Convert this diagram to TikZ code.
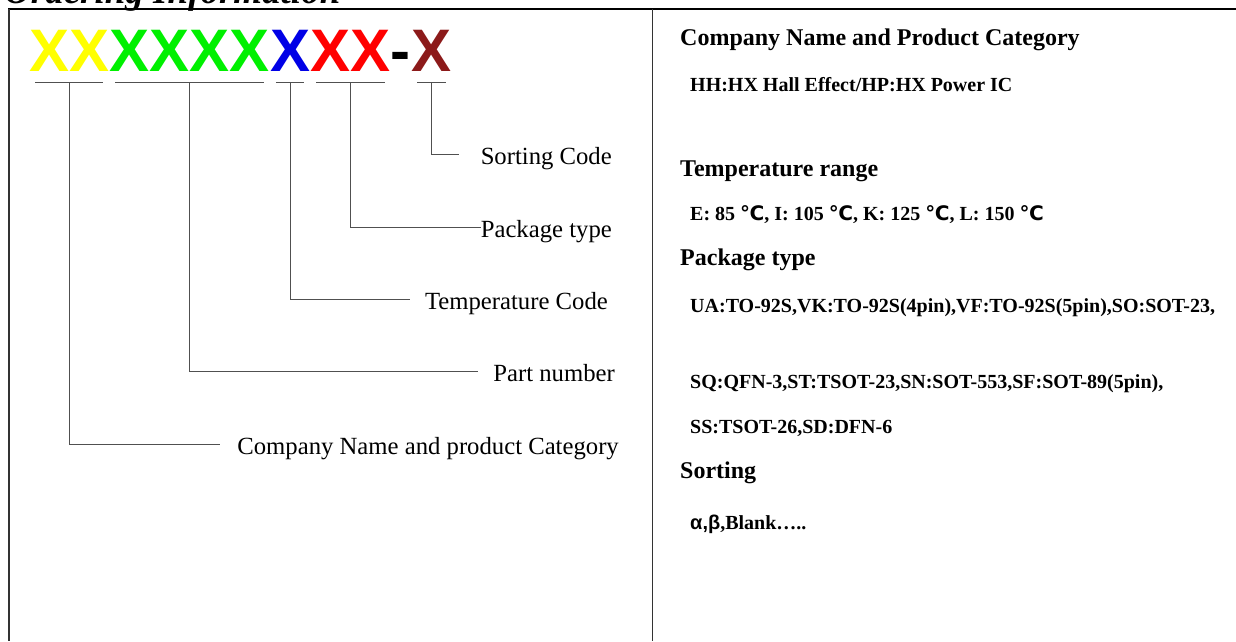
\documentclass[tikz,border=0pt]{standalone}
\usepackage{fontspec}
\setmainfont{Liberation Serif}
\newfontfamily\codefont{Liberation Sans}
\newfontfamily\symfont{DejaVu Sans}
\usetikzlibrary{positioning}

\definecolor{xyellow}{RGB}{255,255,0}
\definecolor{xgreen}{RGB}{0,240,0}
\definecolor{xblue}{RGB}{0,0,230}
\definecolor{xred}{RGB}{255,0,0}
\definecolor{xbrown}{RGB}{140,26,26}
\definecolor{leadgray}{RGB}{80,80,80}
\newcommand{\degC}{{\symfont ℃}}

\begin{document}
\begin{tikzpicture}[
    x=1pt, y=-1pt,
    code/.style={inner sep=0pt, font=\codefont\bfseries\fontsize{60}{60}\selectfont},
    field/.style={inner sep=0pt, anchor=east, text height=20pt, text depth=0pt,
      font=\fontsize{24.7}{28}\selectfont},
    head/.style={inner sep=0pt, anchor=base west, font=\bfseries\fontsize{24}{28}\selectfont},
    info/.style={inner sep=0pt, anchor=base west, font=\bfseries\fontsize{20}{24}\selectfont},
    lead/.style={draw=leadgray, line width=0.9pt}
]
\useasboundingbox (0,0) rectangle (1236,641);
\clip (0,0) rectangle (1236,641);

% title, cut by the top of the page
\node[anchor=base west, inner sep=0pt, font=\bfseries\itshape\fontsize{37}{37}\selectfont] (title) at (4,3) {Ordering Information};

% table frame
\draw[line width=2.4pt] (8,9) -- (1236,9);
\draw[line width=1.8pt, black!80] (9,9) -- (9,641);
\draw[line width=1pt, black!80] (652,9) -- (652,641);

% part code
\node[code, text=xyellow, anchor=base west] (cc) at (29,71) {XX};
\node[code, text=xgreen, base right=0pt of cc] (pn) {XXXX};
\node[code, text=xblue, base right=0pt of pn] (tc) {X};
\node[code, text=xred, base right=0pt of tc] (pk) {XX};
\node[code, text=black, base right=0pt of pk] (dash) {-};
\node[code, text=xbrown, base right=0pt of dash] (sc) {X};

\foreach \g in {cc,pn,tc,pk,sc}
  \draw[lead] ([shift={(6,11)}]\g.south west) -- ([shift={(-6,11)}]\g.south east);

% field names
\node[field] (lsc) at (612,154) {Sorting Code};
\node[field] (lpk) at (612,227) {Package type};
\node[field] (ltc) at (608,299) {Temperature Code};
\node[field] (lpn) at (615,371) {Part number};
\node[field] (lcc) at (619,444) {Company Name and product Category};

\draw[lead] ([yshift=-11pt]sc.south) |- ([xshift=-22pt]lsc.west);
\draw[lead] ([yshift=-11pt]pk.south) |- (lpk.west);
\draw[lead] ([yshift=-11pt]tc.south) |- ([xshift=-15pt]ltc.west);
\draw[lead] ([yshift=-11pt]pn.south) |- ([xshift=-15pt]lpn.west);
\draw[lead] ([yshift=-11pt]cc.south) |- ([xshift=-17pt]lcc.west);

% explanations
\node[head] (hcc) at (680,45) {Company Name and Product Category};
\node[info] (icc) at (690,91) {HH:HX Hall Effect/HP:HX Power IC};
\node[head] (htc) at (680,176) {Temperature range};
\node[info] (itc) at (690,220) {E: 85 \degC, I: 105 \degC, K: 125 \degC, L: 150 \degC};
\node[head] (hpk) at (680,265) {Package type};
\node[info] (ipk1) at (690,312) {UA:TO-92S,VK:TO-92S(4pin),VF:TO-92S(5pin),SO:SOT-23,};
\node[info] (ipk2) at (690,388) {SQ:QFN-3,ST:TSOT-23,SN:SOT-553,SF:SOT-89(5pin),};
\node[info] (ipk3) at (690,433) {SS:TSOT-26,SD:DFN-6};
\node[head] (hsc) at (680,478) {Sorting};
\node[info] (isc) at (690,529) {{\codefont α,β},Blank…..};
\end{tikzpicture}
\end{document}
